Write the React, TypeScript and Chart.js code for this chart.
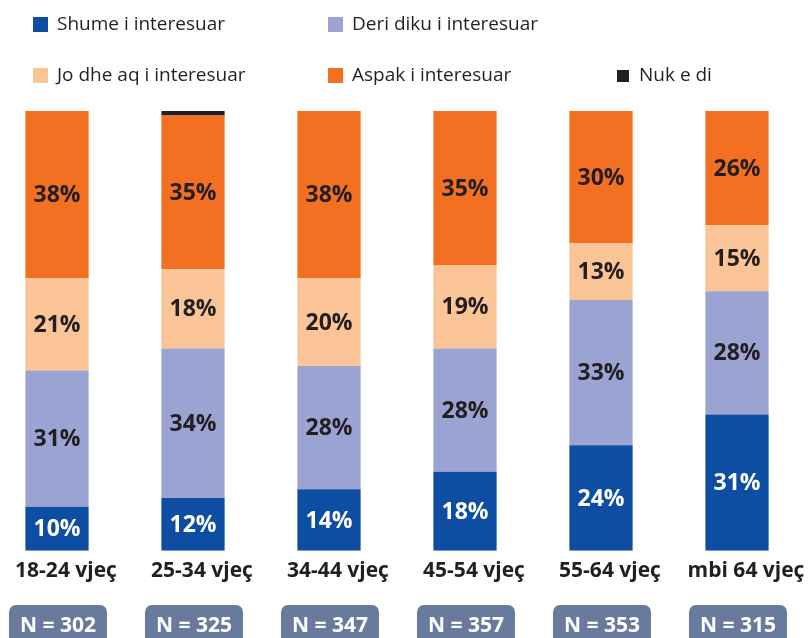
import React, { useEffect, useRef } from "react";
import { Chart, registerables } from "chart.js";

Chart.register(...registerables);

const categories = ["18-24 vjeç", "25-34 vjeç", "34-44 vjeç", "45-54 vjeç", "55-64 vjeç", "mbi 64 vjeç"];
const sampleSizes = ["N = 302", "N = 325", "N = 347", "N = 357", "N = 353", "N = 315"];
const seriesNames = ["Shume i interesuar", "Deri diku i interesuar", "Jo dhe aq i interesuar", "Aspak i interesuar", "Nuk e di"];
const shume = [10, 12, 14, 18, 24, 31];
const deriDiku = [31, 34, 28, 28, 33, 28];
const joDheAq = [21, 18, 20, 19, 13, 15];
const aspak = [38, 35, 38, 35, 30, 26];
const nukEDi = [0, 1, 0, 0, 0, 0];
const seriesColors = ["#0d4da2", "#9aa3d1", "#fbc497", "#f37022", "#231f20"];

const FONT = "'Open Sans', 'Noto Sans', sans-serif";
const DARK = "#231f20";

const legendPlugin = {
  id: "customLegend",
  afterDraw(chart: any) {
    const ctx = chart.ctx;
    const slots = [
      { x: 33, y: 17, s: 15 },
      { x: 328, y: 17, s: 15 },
      { x: 33, y: 68, s: 15 },
      { x: 328, y: 68, s: 15 },
      { x: 617, y: 70, s: 12 },
    ];
    const offX = 11; // canvas is shifted left by 11px
    ctx.save();
    ctx.font = `19px ${FONT}`;
    ctx.textBaseline = "middle";
    ctx.textAlign = "left";
    chart.data.datasets.forEach((ds: any, i: number) => {
      const sl = slots[i];
      ctx.fillStyle = ds.backgroundColor;
      ctx.fillRect(sl.x + offX, sl.y, sl.s, sl.s);
      ctx.fillStyle = DARK;
      const cy = i < 2 ? 25 : 76;
      const tx = i === 4 ? 639 : sl.x + 24;
      ctx.fillText(ds.label, tx + offX, cy);
    });
    ctx.restore();
  },
};

const valueLabelPlugin = {
  id: "valueLabels",
  afterDatasetsDraw(chart: any) {
    const ctx = chart.ctx;
    ctx.save();
    ctx.font = `bold 23px ${FONT}`;
    ctx.textAlign = "center";
    ctx.textBaseline = "middle";
    chart.data.datasets.forEach((ds: any, di: number) => {
      if (di > 3) return;
      const meta = chart.getDatasetMeta(di);
      meta.data.forEach((el: any, i: number) => {
        const v = ds.data[i];
        if (!v) return;
        const p = el.getProps(["x", "y", "base"], true);
        ctx.fillStyle = di === 0 ? "#ffffff" : DARK;
        ctx.fillText(`${v}%`, p.x, (p.y + p.base) / 2 + 1);
      });
    });
    ctx.restore();
  },
};

const sampleBoxPlugin = {
  id: "sampleBoxes",
  afterDraw(chart: any) {
    const ctx = chart.ctx;
    const xs = chart.scales.x;
    ctx.save();
    ctx.font = `bold 21px ${FONT}`;
    ctx.textAlign = "center";
    ctx.textBaseline = "alphabetic";
    sampleSizes.forEach((label, i) => {
      const cx = xs.getPixelForValue(i) + 1;
      const w = 98;
      const top = 605;
      ctx.fillStyle = "#687b9c";
      ctx.beginPath();
      (ctx as any).roundRect(cx - w / 2, top, w, 45, 7);
      ctx.fill();
      ctx.fillStyle = "#ffffff";
      ctx.fillText(label, cx, 632);
    });
    ctx.restore();
  },
};

export default function App() {
  const ref = useRef<HTMLCanvasElement | null>(null);
  useEffect(() => {
    if (!ref.current) return;
    const values = [shume, deriDiku, joDheAq, aspak, nukEDi];
    const chart = new Chart(ref.current, {
      type: "bar",
      data: {
        labels: categories,
        datasets: values.map((d, i) => ({
          label: seriesNames[i],
          data: d,
          backgroundColor: seriesColors[i],
          borderWidth: 0,
          categoryPercentage: 1,
          barPercentage: 0.465,
        })),
      },
      options: {
        responsive: false,
        animation: false,
        devicePixelRatio: 1,
        layout: { padding: { top: 111, bottom: 46, left: 0, right: 11 } },
        plugins: { legend: { display: false }, tooltip: { enabled: false } },
        scales: {
          x: {
            stacked: true,
            grid: { display: false, drawTicks: false },
            border: { display: false },
            ticks: {
              padding: 8,
              labelOffset: 9,
              color: DARK,
              font: { family: FONT, size: 21, weight: "bold" },
              maxRotation: 0,
              autoSkip: false,
            },
          },
          y: {
            stacked: true,
            display: false,
            min: 0,
            max: 100,
          },
        },
      },
      plugins: [legendPlugin, valueLabelPlugin, sampleBoxPlugin],
    });
    return () => chart.destroy();
  }, []);

  return (
    <div style={{ position: "absolute", left: 0, top: 0, width: 809, height: 638, overflow: "hidden", background: "#fff" }}>
      <canvas
        ref={ref}
        width={827}
        height={638}
        style={{ position: "absolute", left: -11, top: 0, width: 827, height: 638 }}
      />
    </div>
  );
}
